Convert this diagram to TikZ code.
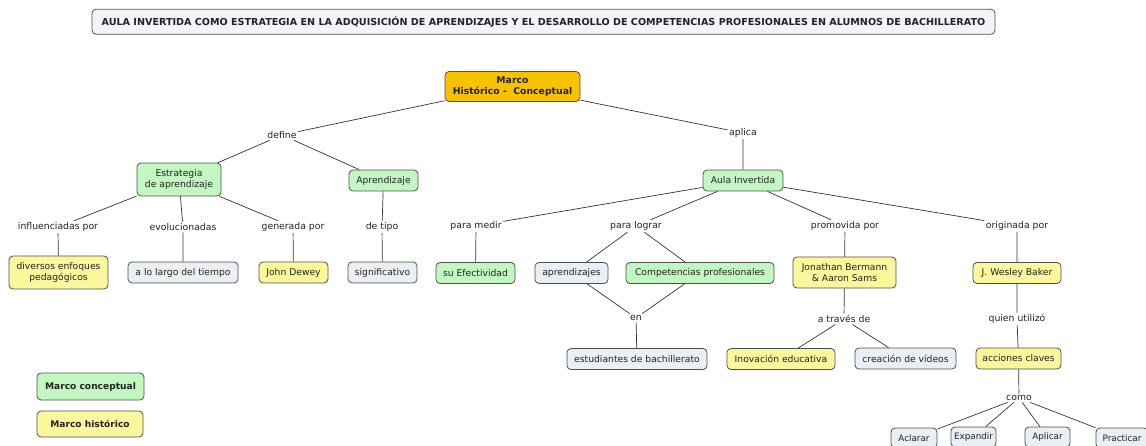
\documentclass[tikz,border=0pt]{standalone}
\usepackage{fontspec}
\setmainfont{DejaVu Sans}
\definecolor{cgreen}{HTML}{C2F7C2}
\definecolor{cyellow}{HTML}{FBF79C}
\definecolor{cgray}{HTML}{E9EFF3}
\definecolor{corange}{HTML}{F7C300}
\definecolor{cborder}{HTML}{505050}
\definecolor{cline}{HTML}{333333}
\definecolor{ctext}{HTML}{222222}
\tikzset{
  box/.style={draw=cborder, line width=0.8pt, rounded corners=4pt, align=center,
    inner xsep=2pt, inner ysep=1.5pt, minimum height=21pt, text=ctext,
    font=\fontsize{9.2}{11.5}\selectfont},
  gbox/.style={box, fill=cgreen},
  ybox/.style={box, fill=cyellow},
  wbox/.style={box, fill=cgray},
  sbox/.style={wbox, font=\fontsize{8.8}{10}\selectfont},
  lbl/.style={inner sep=1.5pt, text=ctext, font=\fontsize{9.3}{11}\selectfont, fill=white},
  ln/.style={draw=cline, line width=0.7pt},
}
\begin{document}
\begin{tikzpicture}[x=1pt,y=-1pt]
\useasboundingbox (0,0) rectangle (1146,446);
% title
\node[box, fill=cgray!60, minimum width=903pt, minimum height=25pt, font=\bfseries\fontsize{9.6}{11}\selectfont] (title) at (543.5,21.7)
  {AULA INVERTIDA COMO ESTRATEGIA EN LA ADQUISICIÓN DE APRENDIZAJES Y EL DESARROLLO DE COMPETENCIAS PROFESIONALES EN ALUMNOS DE BACHILLERATO};
% root
\node[box, fill=corange, minimum width=135pt, minimum height=30pt, inner ysep=1pt, font=\bfseries\fontsize{9.3}{10.5}\selectfont] (marco) at (512.5,86.5) {Marco\\Histórico -\ \ Conceptual};
% labels
\node[lbl] (define) at (282,135) {define};
\node[lbl] (aplica) at (743,133) {aplica};
% level 2
\node[gbox, minimum width=84pt, minimum height=33pt] (estr) at (179,179.5) {Estrategia\\de aprendizaje};
\node[gbox, minimum width=69pt] (apr) at (383.5,180.5) {Aprendizaje};
\node[gbox, minimum width=80pt] (aula) at (743,180.5) {Aula Invertida};
% level 3 labels
\node[lbl] (infl) at (58,227) {influenciadas por};
\node[lbl] (evol) at (183,227) {evolucionadas};
\node[lbl] (gen) at (293,227) {generada por};
\node[lbl] (tipo) at (382,227) {de tipo};
\node[lbl] (medir) at (476,226) {para medir};
\node[lbl] (lograr) at (636,226) {para lograr};
\node[lbl] (prom) at (845,226) {promovida por};
\node[lbl] (orig) at (1017,226) {originada por};
% level 3 nodes
\node[ybox, minimum width=99pt, minimum height=33pt] (div) at (58.5,272.5) {diversos enfoques\\pedagógicos};
\node[wbox, minimum width=110pt] (tiempo) at (183,272.5) {a lo largo del tiempo};
\node[ybox, minimum width=69pt] (dewey) at (293.5,272.5) {John Dewey};
\node[wbox, minimum width=69pt] (sig) at (382.5,272.5) {significativo};
\node[gbox, minimum width=79pt] (efec) at (475.5,273) {su Efectividad};
\node[wbox, minimum width=73pt] (aprs) at (571.5,273) {aprendizajes};
\node[gbox, minimum width=148pt] (comp) at (700,273) {Competencias profesionales};
\node[ybox, minimum width=103pt, minimum height=31pt] (jon) at (844.5,272.5) {Jonathan Bermann\\\&\ Aaron Sams};
\node[ybox, minimum width=88pt] (baker) at (1017,273) {J. Wesley Baker};
% level 4
\node[lbl] (en) at (636,318) {en};
\node[lbl] (trav) at (844,319) {a través de};
\node[lbl] (quien) at (1017,319) {quien utilizó};
\node[wbox, minimum width=140pt] (est) at (637,359) {estudiantes de bachillerato};
\node[ybox, minimum width=108pt] (inov) at (781,359) {Inovación educativa};
\node[wbox, minimum width=101pt] (crea) at (905.5,358.5) {creación de vídeos};
\node[ybox, minimum width=85pt] (acc) at (1018.5,358.5) {acciones claves};
\node[lbl] (como) at (1019,398) {como};
\node[sbox, minimum width=46pt, minimum height=20pt] (acl) at (914,438) {Aclarar};
\node[sbox, minimum width=45pt, minimum height=20pt] (exp) at (973.5,437) {Expandir};
\node[sbox, minimum width=45pt, minimum height=20pt] (apl) at (1047.5,437) {Aplicar};
\node[sbox, minimum width=52pt, minimum height=20pt] (prac) at (1122,438) {Practicar};
% legend
\node[gbox, minimum width=107pt, minimum height=27pt, font=\bfseries\fontsize{9.1}{10}\selectfont] (legc) at (90.5,386.5) {Marco conceptual};
\node[ybox, minimum width=106pt, minimum height=26pt, font=\bfseries\fontsize{9.1}{10}\selectfont] (legh) at (90,424) {Marco histórico};
% connectors
\path[ln] (marco) -- (define) (define) -- (estr) (define) -- (apr);
\path[ln] (marco) -- (aplica) (aplica) -- (aula);
\path[ln] (estr) -- (infl) (infl) -- (div);
\path[ln] (estr) -- (evol) (evol) -- (tiempo);
\path[ln] (estr) -- (gen) (gen) -- (dewey);
\path[ln] (apr) -- (tipo) (tipo) -- (sig);
\path[ln] (aula) -- (medir) (medir) -- (efec);
\path[ln] (aula) -- (lograr) (lograr) -- (aprs) (lograr) -- (comp);
\path[ln] (aula) -- (prom) (prom) -- (jon);
\path[ln] (aula) -- (orig) (orig) -- (baker);
\path[ln] (aprs) -- (en) (comp) -- (en) (en) -- (est);
\path[ln] (jon) -- (trav) (trav) -- (inov) (trav) -- (crea);
\path[ln] (baker) -- (quien) (quien) -- (acc);
\path[ln] (acc) -- (como) (como) -- (acl) (como) -- (exp) (como) -- (apl) (como) -- (prac);
\end{tikzpicture}
\end{document}
